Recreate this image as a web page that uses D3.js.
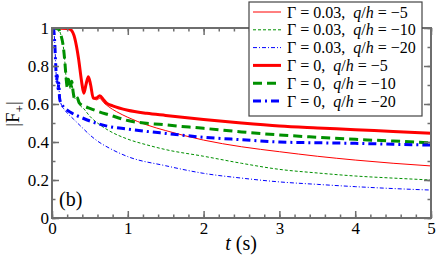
<!DOCTYPE html>
<meta charset="utf-8">
<title>|F+| vs t</title>
<script src="https://d3js.org/d3.v7.min.js"></script>
<style>
  body { margin: 0; background: #fff; }
</style>
<body>
<div id="chart"></div>
<script>
// ---- data (t in s, |F+|) ----
var redThin = [[0,1],[0.2,0.998],[0.25,0.99],[0.3,0.947],[0.35,0.84],[0.39,0.72],[0.42,0.656],[0.45,0.705],[0.48,0.744],[0.51,0.7],[0.545,0.63],[0.59,0.622],[0.63,0.63],[0.68,0.608],[0.75,0.585],[0.85,0.56],[1,0.53],[1.25,0.49],[1.5,0.46],[2,0.41],[2.5,0.375],[3,0.349],[3.5,0.325],[4,0.305],[4.5,0.288],[5,0.274]];
var greenThin = [[0,1],[0.08,0.995],[0.12,0.96],[0.15,0.9],[0.17,0.82],[0.19,0.72],[0.2,0.69],[0.22,0.73],[0.24,0.68],[0.26,0.72],[0.28,0.66],[0.3,0.625],[0.33,0.635],[0.36,0.6],[0.42,0.575],[0.5,0.535],[0.6,0.5],[0.75,0.46],[1,0.415],[1.25,0.385],[1.5,0.36],[2,0.325],[2.5,0.288],[3,0.256],[3.5,0.237],[4,0.221],[4.5,0.21],[5,0.2]];
var blueThin = [[0,1],[0.02,0.995],[0.035,0.93],[0.05,0.8],[0.06,0.72],[0.07,0.75],[0.08,0.68],[0.09,0.71],[0.1,0.63],[0.12,0.6],[0.15,0.578],[0.2,0.553],[0.28,0.522],[0.4,0.475],[0.5,0.437],[0.6,0.405],[0.76,0.367],[1,0.323],[1.5,0.275],[2,0.235],[2.5,0.21],[3,0.19],[3.5,0.177],[4,0.165],[4.5,0.155],[5,0.147]];
var redThick = [[0,1],[0.2,0.998],[0.25,0.99],[0.3,0.947],[0.35,0.84],[0.39,0.72],[0.42,0.656],[0.45,0.705],[0.48,0.744],[0.51,0.7],[0.545,0.63],[0.59,0.632],[0.63,0.644],[0.68,0.622],[0.72,0.604],[0.8,0.59],[1,0.567],[1.25,0.551],[1.5,0.54],[2,0.519],[2.5,0.5],[3,0.484],[3.5,0.474],[4,0.465],[4.5,0.455],[5,0.446]];
var greenThick = [[0,1],[0.08,0.995],[0.12,0.96],[0.15,0.9],[0.17,0.82],[0.19,0.72],[0.2,0.69],[0.22,0.73],[0.24,0.68],[0.26,0.72],[0.28,0.66],[0.3,0.625],[0.33,0.635],[0.36,0.605],[0.44,0.586],[0.5,0.577],[0.6,0.562],[0.76,0.542],[1,0.513],[1.5,0.49],[2,0.472],[2.5,0.453],[3,0.437],[3.5,0.425],[4,0.414],[4.5,0.405],[5,0.396]];
var blueThick = [[0,1],[0.02,0.995],[0.035,0.93],[0.05,0.8],[0.06,0.72],[0.07,0.75],[0.08,0.68],[0.09,0.71],[0.1,0.63],[0.12,0.603],[0.15,0.586],[0.25,0.555],[0.41,0.525],[0.7,0.486],[1,0.468],[1.5,0.445],[2,0.425],[2.5,0.412],[3,0.4],[3.5,0.396],[4,0.393],[4.5,0.388],[5,0.384]];

var gammaLabels = ["0.03", "0.03", "0.03", "0", "0", "0"];
var qhLabels = ["\u22125", "\u221210", "\u221220", "\u22125", "\u221210", "\u221220"];
var xTicks = [0, 1, 2, 3, 4, 5];
var yTicks = [0, 0.2, 0.4, 0.6, 0.8, 1];
var yTickLabels = ["0", "0.2", "0.4", "0.6", "0.8", "1"];

// series styles
var series = [
  {data: redThin,    color: "#ff0000", width: 1,   dash: null},
  {data: greenThin,  color: "#009000", width: 1,   dash: "3,2"},
  {data: blueThin,   color: "#0000ff", width: 1,   dash: "4,2,1,2"},
  {data: redThick,   color: "#ff0000", width: 3,   dash: null},
  {data: greenThick, color: "#009000", width: 3,   dash: "9,5"},
  {data: blueThick,  color: "#0000ff", width: 3,   dash: "8,4,2,4"}
];

var margin = {top: 28, right: 5, bottom: 39, left: 52},
    W = 436, H = 257,
    width = W - margin.left - margin.right,
    height = H - margin.top - margin.bottom;

var svg = d3.select("#chart").append("svg")
    .attr("width", W).attr("height", H);

var g = svg.append("g")
    .attr("transform", "translate(" + margin.left + "," + margin.top + ")");

var x = d3.scaleLinear().domain([0, 5]).range([0, width]);
var y = d3.scaleLinear().domain([0, 1]).range([height, 0]);

g.append("clipPath").attr("id", "clip")
  .append("rect").attr("width", width).attr("height", height);

var line = d3.line()
    .x(function(d) { return x(d[0]); })
    .y(function(d) { return y(d[1]); })
    .curve(d3.curveMonotoneX);

var lines = g.append("g").attr("clip-path", "url(#clip)");
series.forEach(function(s) {
  lines.append("path")
    .datum(s.data)
    .attr("d", line)
    .attr("fill", "none")
    .attr("stroke", s.color)
    .attr("stroke-width", s.width)
    .attr("stroke-dasharray", s.dash);
});

// axes: ticks pointing inwards on all four sides
var axisColor = "#6e6e6e";
var xMinor = d3.range(0, 5.001, 0.2);
var yMinor = d3.range(0, 1.001, 0.1);

function styleAxis(sel) {
  sel.select(".domain").remove();
  sel.selectAll(".tick line").attr("stroke", axisColor).attr("stroke-width", 1.5);
  sel.selectAll("text").attr("font-size", 17).attr("fill", "#000");
}

g.append("g").attr("transform", "translate(0," + height + ")")
  .call(d3.axisBottom(x).tickValues(xMinor).tickSize(-3.5).tickFormat(""))
  .call(styleAxis);
g.append("g").attr("transform", "translate(0," + height + ")")
  .call(d3.axisBottom(x).tickValues(xTicks).tickSize(-7).tickPadding(4).tickFormat(d3.format("d")))
  .call(styleAxis);
g.append("g")
  .call(d3.axisTop(x).tickValues(xMinor).tickSize(-3.5).tickFormat(""))
  .call(styleAxis);
g.append("g")
  .call(d3.axisTop(x).tickValues(xTicks).tickSize(-7).tickFormat(""))
  .call(styleAxis);

g.append("g")
  .call(d3.axisLeft(y).tickValues(yMinor).tickSize(-3.5).tickFormat(""))
  .call(styleAxis);
g.append("g")
  .call(d3.axisLeft(y).tickValues(yTicks).tickSize(-7).tickPadding(3)
        .tickFormat(function(d, i) { return yTickLabels[i]; }))
  .call(styleAxis);
g.append("g").attr("transform", "translate(" + width + ",0)")
  .call(d3.axisRight(y).tickValues(yMinor).tickSize(-3.5).tickFormat(""))
  .call(styleAxis);
g.append("g").attr("transform", "translate(" + width + ",0)")
  .call(d3.axisRight(y).tickValues(yTicks).tickSize(-7).tickFormat(""))
  .call(styleAxis);

g.append("rect")
  .attr("width", width).attr("height", height)
  .attr("fill", "none").attr("stroke", axisColor).attr("stroke-width", 2);

// axis titles
var xt = svg.append("text")
  .attr("x", 241).attr("y", 250)
  .attr("text-anchor", "middle").attr("font-size", 20);
xt.append("tspan").attr("font-style", "italic").text("t");
xt.append("tspan").text(" (s)");

var yt = svg.append("text")
  .attr("transform", "translate(19,114) rotate(-90)")
  .attr("text-anchor", "middle").attr("font-size", 19);
yt.append("tspan").text("|F");
yt.append("tspan").attr("font-size", 13).attr("dy", 5).text("+");
yt.append("tspan").attr("dy", -5).text("|");

svg.append("text").attr("x", 59).attr("y", 206)
  .attr("font-size", 20).text("(b)");

// legend
var lg = svg.append("g").attr("transform", "translate(249,2)");
lg.append("rect")
  .attr("width", 173).attr("height", 114)
  .attr("fill", "#fff").attr("stroke", "#444").attr("stroke-width", 1.2);

series.forEach(function(s, i) {
  var cy = 10 + i * 17.8;
  lg.append("line")
    .attr("x1", 4).attr("x2", 32)
    .attr("y1", cy).attr("y2", cy)
    .attr("stroke", s.color)
    .attr("stroke-width", s.width)
    .attr("stroke-dasharray", s.dash);
  var t = lg.append("text").attr("x", 38).attr("y", cy).attr("dy", "0.35em")
    .attr("font-size", 16);
  t.append("tspan").text("\u0393 = " + gammaLabels[i] + ",  ");
  t.append("tspan").attr("font-style", "italic").text("q");
  t.append("tspan").text("/");
  t.append("tspan").attr("font-style", "italic").text("h");
  t.append("tspan").text(" = " + qhLabels[i]);
});

// serif face everywhere
svg.selectAll("text")
  .style("font-family", "'Liberation Serif'")
  .style("fill", "#000")
  .style("white-space", "pre");
</script>
</body>
